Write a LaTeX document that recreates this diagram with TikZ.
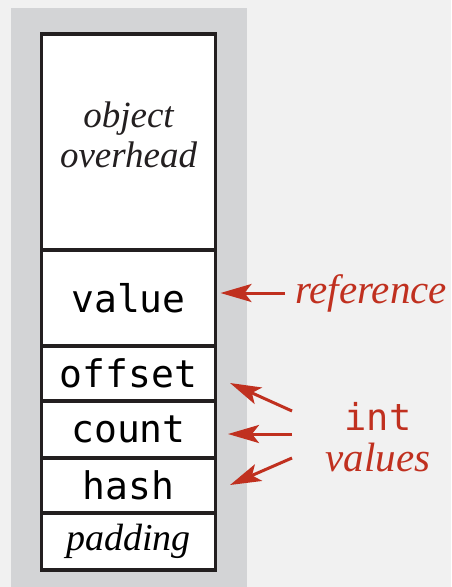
\documentclass[tikz,border=0pt]{standalone}
\usepackage{fontspec}
\setmainfont{Liberation Serif}
\setmonofont{DejaVu Sans Mono}
\usepackage{xcolor}
\usepackage{tikz}
\usetikzlibrary{arrows.meta,positioning}

\definecolor{bookred}{HTML}{C0301F}
\definecolor{panelgray}{HTML}{D3D4D6}
\definecolor{pagegray}{HTML}{F1F1F1}
\definecolor{inkblack}{HTML}{231F20}

\begin{document}
\begin{tikzpicture}[
  x=1pt, y=-1pt,
  cell/.style={draw=inkblack, fill=white, line width=3.5pt, rectangle,
    inner sep=0pt, outer sep=0pt, minimum width=174pt,
    font=\ttfamily\fontsize{38}{40}\selectfont},
  note/.style={inner sep=0pt, font=\itshape\fontsize{41}{42}\selectfont},
  ptr/.style={draw=bookred, line width=3pt,
    -{Stealth[length=31pt,width=18pt,inset=7pt]}}
]
\useasboundingbox[fill=pagegray] (0,0) rectangle (451,587);
\fill[panelgray] (11,8) rectangle (247,587);

% the fields of the object, top to bottom
\node[cell, minimum height=216pt] (overhead) at (128.5,142) {};
\node[cell, minimum height=96pt] (value) at (128.5,298) {value};
\node[cell, minimum height=55pt] (offset) at (128.5,373.5) {offset};
\node[cell, minimum height=57pt] (count) at (128.5,429.5) {count};
\node[cell, minimum height=55pt] (hash) at (128.5,485.5) {hash};
\node[cell, minimum height=57pt, font=\itshape\fontsize{38}{40}\selectfont]
  (padding) at (128.5,541.5) {padding};
\node[note, align=center, text=inkblack, font=\itshape\fontsize{37}{40}\selectfont]
  (ohtext) at (128.5,135) {object\\overhead};

% labels on the right
\node[note, text=bookred, anchor=west] (reflab) at (295,293) {reference};
\node[inner sep=0pt, text=bookred, font=\ttfamily\fontsize{37}{40}\selectfont]
  (intlab) at (378,416) {int};
\node[note, text=bookred] (vallab) at (378,458) {values};

% arrows
\coordinate (reftail) at (285,293);
\coordinate (offtail) at (292,411);
\coordinate (cnttail) at (292,434);
\coordinate (hshtail) at (292,458);
\coordinate (offtip) at (230,383);
\coordinate (cnttip) at (228,434);
\coordinate (hshtip) at (230,485);
\draw[ptr] (reftail) -- ([xshift=5pt]value.east |- reftail);
\draw[ptr] (offtail) -- (offtip);
\draw[ptr] (cnttail) -- (cnttip);
\draw[ptr] (hshtail) -- (hshtip);
\end{tikzpicture}
\end{document}
